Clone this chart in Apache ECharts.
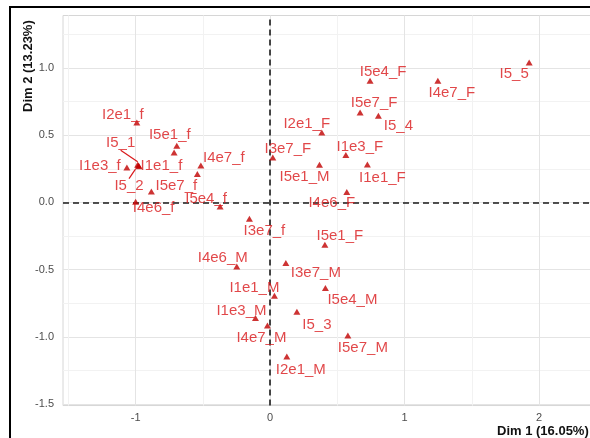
<!DOCTYPE html>
<html>
<head>
<meta charset="utf-8">
<script src="https://cdn.jsdelivr.net/npm/echarts@6/dist/echarts.min.js"></script>
<style>
html,body{margin:0;padding:0;background:#fff;}
#chart{width:590px;height:438px;}
</style>
</head>
<body>
<div id="chart"></div>
<script>
// ---- data ----
const names = ['I2e1_f','I5e1_f','I5_1','I1e3_f','I1e1_f','I5_2','I5e7_f','I4e7_f','I5e4_f','I4e6_f',
  'I3e7_f','I4e6_M','I5e1_F','I3e7_M','I1e1_M','I5e4_M','I1e3_M','I5_3','I4e7_M','I5e7_M',
  'I2e1_M','I5e4_F','I5e7_F','I5_4','I2e1_F','I3e7_F','I1e3_F','I5e1_M','I1e1_F','I4e6_F',
  'I4e7_F','I5_5','',''];
const dim1 = [-0.991,-0.694,-0.985,-1.065,-0.979,-0.975,-0.883,-0.515,-0.372,-1.0,
  -0.154,-0.248,0.407,0.117,0.032,0.411,-0.109,0.199,-0.020,0.578,
  0.124,0.743,0.669,0.805,0.384,0.020,0.563,0.367,0.723,0.570,
  1.247,1.926,-0.714,-0.541];
const dim2 = [0.595,0.422,0.28,0.260,0.275,0.27,0.082,0.275,-0.03,0.005,
  -0.121,-0.476,-0.314,-0.451,-0.694,-0.636,-0.859,-0.813,-0.914,-0.989,
  -1.145,0.905,0.669,0.645,0.520,0.335,0.352,0.280,0.283,0.077,
  0.905,1.041,0.372,0.211];
const xTicks = [-1, 0, 1, 2];
const yTicks = [-1.5, -1.0, -0.5, 0.0, 0.5, 1.0];
const xMinor = [-1.5, -0.5, 0.5, 1.5, 2.5];
const yMinor = [-1.25, -0.75, -0.25, 0.25, 0.75, 1.25];
const xTitle = 'Dim 1 (16.05%)';
const yTitle = 'Dim 2 (13.23%)';
// label nudges (px) for repelled labels
const labelNudge = [[-14,-8],[-7,-10.5],[-17,-22],[-27,-2],[23,0],[-10,20],[25,-6],[23,-8],[-14,-8],[18,6.5],
  [15,12],[-14,-9],[15,-9],[30,10],[-20,-8],[27,12],[-14,-7],[20,13],[-6,12],[15,12],
  [14,13],[13,-9],[14,-10],[20,10],[-15,-9],[15,-9],[14,-8],[-15,12],[15,13],[-15,11],
  [14,12],[-15,11],[0,0],[0,0]];
const withLine = ['I5_1','I5_2'];

const xMin = -1.54, xMax = 2.5, yMin = -1.51, yMax = 1.39;
const unit = 134.5;

const chart = echarts.init(document.getElementById('chart'), null, {renderer:'canvas'});
const pts = names.map((n, i) => ({
  name: n,
  value: [dim1[i], dim2[i]],
  labelLine: { show: withLine.indexOf(n) >= 0 }
}));
const font = 'Liberation Sans, Arial, sans-serif';
const fmt = v => (Math.round(v * 10) / 10).toFixed(1);

chart.setOption({
  animation: false,
  backgroundColor: '#ffffff',
  grid: {
    left: 63, top: 15.5,
    width: (xMax - xMin) * unit,
    height: (yMax - yMin) * unit,
    show: true, borderColor: '#d6d6d6', borderWidth: 1,
    containLabel: false,
    outerBoundsMode: 'none'
  },
  xAxis: [{
    type: 'value', min: xMin, max: xMax,
    axisLine: { show: false },
    axisTick: { show: false, customValues: xTicks },
    axisLabel: { customValues: xTicks, color: '#4d4d4d', fontSize: 11, fontFamily: font, margin: 7,
      formatter: v => String(Math.round(v)) },
    splitLine: { show: true, lineStyle: { color: '#e4e4e4', width: 1 } }
  }, {
    type: 'value', min: xMin, max: xMax, position: 'top',
    axisLine: { show: false },
    axisTick: { show: false, customValues: xMinor },
    axisLabel: { show: false, customValues: xMinor },
    splitLine: { show: true, lineStyle: { color: '#f2f2f2', width: 1 } }
  }],
  yAxis: [{
    type: 'value', min: yMin, max: yMax,
    axisLine: { show: false },
    axisTick: { show: false, customValues: yTicks },
    axisLabel: { customValues: yTicks, color: '#4d4d4d', fontSize: 11, fontFamily: font, margin: 9,
      formatter: fmt },
    splitLine: { show: true, lineStyle: { color: '#e4e4e4', width: 1 } }
  }, {
    type: 'value', min: yMin, max: yMax, position: 'right',
    axisLine: { show: false },
    axisTick: { show: false, customValues: yMinor },
    axisLabel: { show: false, customValues: yMinor },
    splitLine: { show: true, lineStyle: { color: '#f2f2f2', width: 1 } }
  }],
  series: [{
    type: 'scatter',
    xAxisIndex: 0, yAxisIndex: 0,
    symbol: 'triangle',
    symbolSize: [7, 6],
    itemStyle: { color: '#c00000' },
    data: pts,
    z: 5,
    label: {
      show: true,
      position: 'inside',
      formatter: p => p.name,
      color: '#d9191c',
      fontSize: 15,
      fontFamily: font
    },
    labelLine: { lineStyle: { color: '#d9191c', width: 1.2 } },
    labelLayout: p => ({ dx: labelNudge[p.dataIndex][0], dy: labelNudge[p.dataIndex][1] }),
    markLine: {
      silent: true,
      symbol: 'none',
      label: { show: false },
      lineStyle: { color: '#1a1a1a', type: [6, 4], width: 1.6 },
      data: [{ xAxis: 0 }, { yAxis: 0 }],
      z: 3
    }
  }],
  graphic: [
    { type: 'text', left: 497, top: 425,
      style: { text: xTitle, font: 'bold 13px ' + font, fill: '#111' } },
    { type: 'text', x: 22, y: 112, rotation: Math.PI / 2,
      style: { text: yTitle, font: 'bold 13px ' + font, fill: '#111' } },
    { type: 'line', shape: { x1: 9, y1: 7, x2: 590, y2: 7 }, style: { stroke: '#000', lineWidth: 2 } },
    { type: 'line', shape: { x1: 10, y1: 6, x2: 10, y2: 438 }, style: { stroke: '#000', lineWidth: 2 } }
  ]
});
</script>
</body>
</html>
